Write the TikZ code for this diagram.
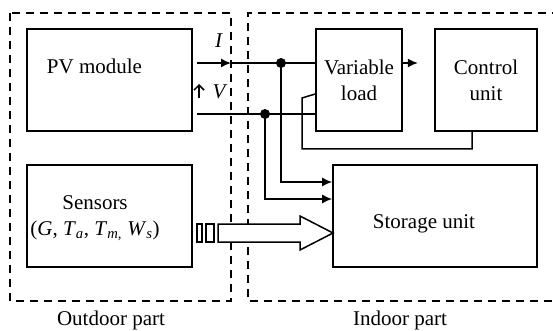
\documentclass[tikz,border=0pt]{standalone}
\usepackage{fontspec}
\setmainfont{Liberation Serif}
\usetikzlibrary{arrows.meta, positioning}

\begin{document}
\begin{tikzpicture}[x=1pt, y=-1pt, line width=1.5pt,
        font=\fontsize{21}{26}\selectfont,
        box/.style={draw, line width=1.6pt, inner sep=0pt, align=center},
        zone/.style={draw, dash pattern=on 8pt off 6pt, line width=1.4pt},
        dot/.style={circle, fill, inner sep=0pt, minimum size=10pt},
        tip/.style={-{Latex[length=10pt, width=9pt]}}]
      \useasboundingbox (0,0) rectangle (553,331);
      % outdoor / indoor parts
      \draw[zone] (10,13) rectangle (231,301);
      \draw[zone] (560,13) -- (248,13) -- (248,301) -- (560,301);
      \node[anchor=base] (outlbl) at (111,325) {Outdoor part};
      \node[anchor=base] (inlbl) at (400,325) {Indoor part};
      % blocks
      \node[box, minimum width=165, minimum height=102] (pv) at (109.5,80) {};
      \node[anchor=base] (pvtext) at (94.5,74) {PV module};
      \node[box, minimum width=86, minimum height=102] (vl) at (359,80) {Variable\\load};
      \node[box, minimum width=102, minimum height=102] (cu) at (486,80) {Control\\unit};
      \node[box, minimum width=165, minimum height=102] (sen) at (109.5,216) {};
      \node[align=center] (sentext) at (95,218)
            {Sensors\\(\textit{G}, \textit{T}\textsubscript{\textit{a}}, \textit{T}\textsubscript{\textit{m,}} \textit{W}\textsubscript{\textit{s}})};
      \node[box, minimum width=204, minimum height=102] (st) at (435,216) {};
      \node[anchor=base] (sttext) at (424,228) {Storage unit};
      % I and V lines
      \coordinate (iout) at (197,63);
      \coordinate (iarr) at (231,63);
      \coordinate (vout) at (197,114);
      \node[dot] (jI) at (281,63) {};
      \node[dot] (jV) at (265,114) {};
      \draw[tip] (iout) -- (iarr);
      \draw (iarr) -- (vl.west |- iarr);
      \draw (vout) -- (vl.west |- vout);
      \draw[tip] (jI.center) |- ([yshift=34pt]st.west);
      \draw[tip] (jV.center) |- ([yshift=17pt]st.west);
      \draw[tip] (vl.east |- iarr) -- ++(15,0);
      \node (ilbl) at (219,41) {\textit{I}};
      \node (vlbl) at (220,92) {\textit{V}};
      \coordinate (vtail) at (199,98);
      \coordinate (vhead) at (199,84);
      \draw[-{Straight Barb[length=5pt, width=10pt]}] (vtail) -- (vhead);
      % control signal
      \coordinate (fb) at (302,98);
      \draw ([xshift=-14pt]cu.south) -- ++(0,17) -| (fb) -- ([yshift=-14pt]vl.west);
      % sensor data
      \draw[fill=white] (197,224) rectangle (202,242);
      \draw[fill=white] (206,224) rectangle (214,242);
      \draw[fill=white] (218,224) -- (300,224) -- (300,216) -- (333,233)
            -- (300,250) -- (300,242) -- (218,242) -- cycle;
    \end{tikzpicture}
\end{document}
